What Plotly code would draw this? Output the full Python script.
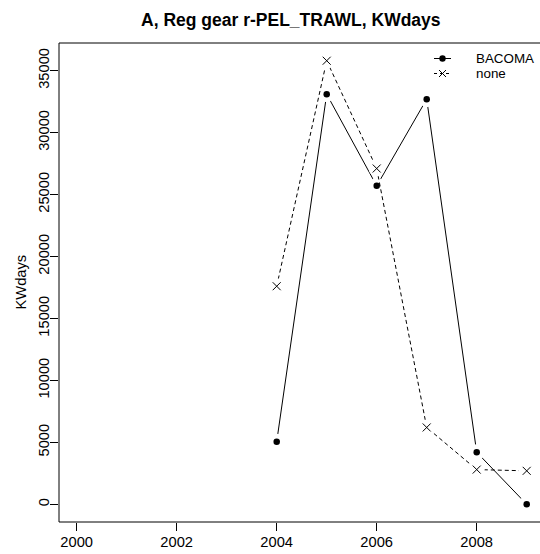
import plotly.graph_objects as go

# Reg gear r-PEL_TRAWL effort (KWdays) by year
years = [2004, 2005, 2006, 2007, 2008, 2009]
bacoma = [5050, 33100, 25700, 32700, 4200, 0]
none_vals = [17600, 35800, 27100, 6200, 2800, 2700]

x_ticks = [2000, 2002, 2004, 2006, 2008]
y_ticks = [0, 5000, 10000, 15000, 20000, 25000, 30000, 35000]

FONT = "Liberation Sans, Arial, Helvetica, sans-serif"
W, H = 540, 554
L, R, T, B = 59, 0, 43, 32
X_RANGE = [1999.646, 2009.266]
Y_RANGE = [-1430, 37230]

fig = go.Figure()

# Layering (each overlay subplot is drawn above the previous one):
#   x/y   : BACOMA line
#   x2/y2 : white halo + BACOMA points, then the dashed "none" line
#   x3/y3 : white halo + "none" crosses
fig.add_trace(go.Scatter(x=years, y=bacoma, mode="lines",
                         line=dict(color="black", width=1),
                         xaxis="x", yaxis="y", showlegend=False, hoverinfo="skip"))
fig.add_trace(go.Scatter(x=years, y=bacoma, mode="markers",
                         marker=dict(symbol="circle", size=16, color="white",
                                     line=dict(width=0)),
                         xaxis="x2", yaxis="y2", showlegend=False, hoverinfo="skip"))
fig.add_trace(go.Scatter(x=years, y=bacoma, mode="markers",
                         marker=dict(symbol="circle", size=6.5, color="black",
                                     line=dict(width=0)),
                         xaxis="x2", yaxis="y2", showlegend=False, hoverinfo="skip"))
fig.add_trace(go.Scatter(x=years, y=none_vals, mode="lines",
                         line=dict(color="black", width=1, dash="4px,3px"),
                         xaxis="x2", yaxis="y2", showlegend=False, hoverinfo="skip"))
fig.add_trace(go.Scatter(x=years, y=none_vals, mode="markers",
                         marker=dict(symbol="circle", size=16, color="white",
                                     line=dict(width=0)),
                         xaxis="x3", yaxis="y3", showlegend=False, hoverinfo="skip"))
fig.add_trace(go.Scatter(x=years, y=none_vals, mode="markers",
                         marker=dict(symbol="x-thin", size=8, color="black",
                                     line=dict(color="black", width=1)),
                         xaxis="x3", yaxis="y3", showlegend=False, hoverinfo="skip"))


def px(x):
    return (x - L) / (W - L - R)


def py(y):
    return (H - B - y) / (H - T - B)


shapes = [
    # plot frame (left, top, bottom)
    dict(type="line", xref="paper", yref="paper", x0=0, x1=0, y0=0, y1=1,
         line=dict(color="black", width=1)),
    dict(type="line", xref="paper", yref="paper", x0=0, x1=1, y0=1, y1=1,
         line=dict(color="black", width=1)),
    dict(type="line", xref="paper", yref="paper", x0=0, x1=1, y0=0, y1=0,
         line=dict(color="black", width=1)),
]

# legend keys
ly1, ly2 = 58.5, 73.5
kx0, kx1, kc = 434, 451, 442.5
shapes += [
    dict(type="line", xref="paper", yref="paper", x0=px(kx0), x1=px(kx1),
         y0=py(ly1), y1=py(ly1), line=dict(color="black", width=1)),
    dict(type="circle", xref="paper", yref="paper",
         x0=px(kc - 3.2), x1=px(kc + 3.2), y0=py(ly1 + 3.2), y1=py(ly1 - 3.2),
         fillcolor="black", line=dict(color="black", width=0)),
    dict(type="line", xref="paper", yref="paper", x0=px(kx0), x1=px(kx1),
         y0=py(ly2), y1=py(ly2), line=dict(color="black", width=1, dash="3px,3px")),
    dict(type="line", xref="paper", yref="paper", x0=px(kc - 3.5), x1=px(kc + 3.5),
         y0=py(ly2 - 3.5), y1=py(ly2 + 3.5), line=dict(color="black", width=1)),
    dict(type="line", xref="paper", yref="paper", x0=px(kc - 3.5), x1=px(kc + 3.5),
         y0=py(ly2 + 3.5), y1=py(ly2 - 3.5), line=dict(color="black", width=1)),
]

LEG_FONT = dict(family=FONT, size=13.4, color="black")
annotations = [
    dict(text="BACOMA", xref="paper", yref="paper", x=px(474), y=py(ly1),
         xanchor="left", yanchor="middle", showarrow=False, font=LEG_FONT),
    dict(text="none", xref="paper", yref="paper", x=px(474), y=py(ly2),
         xanchor="left", yanchor="middle", showarrow=False, font=LEG_FONT),
    dict(text="KWdays", xref="paper", yref="paper", x=px(20), y=0.5,
         xanchor="center", yanchor="middle", textangle=-90, showarrow=False,
         font=dict(family=FONT, size=14.7, color="black")),
]

hidden = dict(range=X_RANGE, visible=False, showgrid=False, zeroline=False)
hidden_y = dict(range=Y_RANGE, visible=False, showgrid=False, zeroline=False)

fig.update_layout(
    width=W, height=H,
    margin=dict(l=L, r=R, t=T, b=B, pad=0),
    paper_bgcolor="white", plot_bgcolor="white",
    font=dict(family=FONT, size=14.7, color="black"),
    title=dict(text="A, Reg gear r-PEL_TRAWL, KWdays", xref="container",
               x=290.8 / W, xanchor="center", yref="container",
               y=1 - 19.5 / H, yanchor="middle",
               font=dict(family=FONT, size=17.5, color="black", weight="bold")),
    shapes=shapes,
    annotations=annotations,
    showlegend=False,
    xaxis=dict(
        range=X_RANGE, tickvals=x_ticks, ticktext=[str(v) for v in x_ticks],
        ticks="outside", ticklen=8, tickwidth=1, tickcolor="black",
        ticklabelstandoff=-2,
        showline=False, showgrid=False, zeroline=False,
        tickfont=dict(family=FONT, size=14.7, color="black"),
    ),
    yaxis=dict(
        range=Y_RANGE, tickvals=y_ticks, ticktext=[str(v) for v in y_ticks],
        tickangle=-90, ticks="outside", ticklen=8, tickwidth=1, tickcolor="black",
        ticklabelstandoff=-5,
        showline=False, showgrid=False, zeroline=False,
        tickfont=dict(family=FONT, size=14.7, color="black"),
    ),
    xaxis2=dict(overlaying="x", **hidden),
    yaxis2=dict(overlaying="y", **hidden_y),
    xaxis3=dict(overlaying="x", **hidden),
    yaxis3=dict(overlaying="y", **hidden_y),
)

fig.write_html("out.html")
